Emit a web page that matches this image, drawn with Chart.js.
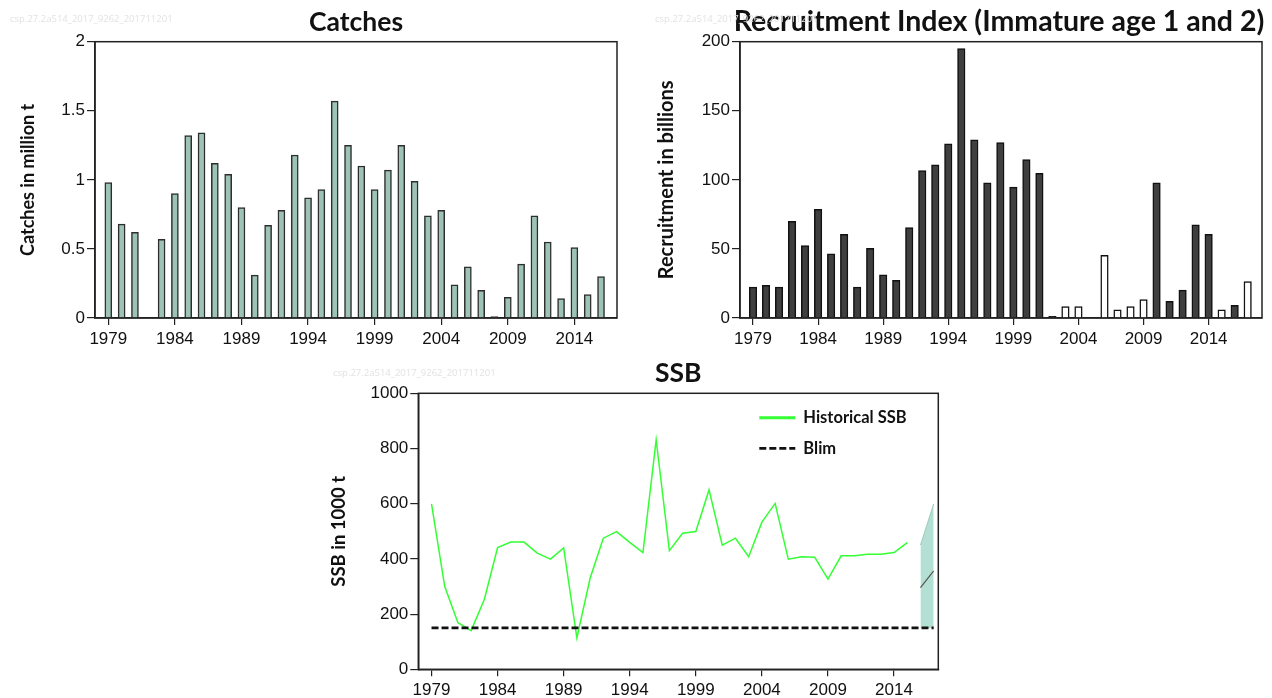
<!DOCTYPE html>
<html lang="en">
<head>
<meta charset="UTF-8">
<title>Capelin stock summary</title>
<style>
  body{ margin:0; background:#fff; }
  .box{ position:absolute; }
</style>
</head>
<body>
<div class="box" style="left:0;top:0"><canvas id="c1" width="640" height="350"></canvas></div>
<div class="box" style="left:640px;top:0"><canvas id="c2" width="632" height="350"></canvas></div>
<div class="box" style="left:320px;top:355px"><canvas id="c3" width="640" height="343"></canvas></div>

<script src="https://cdn.jsdelivr.net/npm/chart.js"></script>
<script>
"use strict";

// ---- data ----
const catchYears = [1979,1980,1981,1982,1983,1984,1985,1986,1987,1988,1989,1990,1991,1992,1993,1994,1995,1996,1997,
  1998,1999,2000,2001,2002,2003,2004,2005,2006,2007,2008,2009,2010,2011,2012,2013,2014,2015,2016];
const catches = [0.98,0.68,0.62,null,0.57,0.90,1.32,1.34,1.12,1.04,0.80,0.31,0.67,0.78,1.18,0.87,0.93,1.57,1.25,
  1.10,0.93,1.07,1.25,0.99,0.74,0.78,0.24,0.37,0.20,0.01,0.15,0.39,0.74,0.55,0.14,0.51,0.17,0.30];

const recYears = [1979,1980,1981,1982,1983,1984,1985,1986,1987,1988,1989,1990,1991,1992,1993,1994,1995,1996,1997,
  1998,1999,2000,2001,2002,2003,2004,2005,2006,2007,2008,2009,2010,2011,2012,2013,2014,2015,2016,2017];
const recFilled = [22.4,23.6,22.4,69.9,52.5,78.6,46.5,60.5,22.4,50.4,31.3,27.2,65.5,106.7,110.8,126,195,129,97.8,
  127,94.7,114.7,104.8,1.2,null,null,null,null,null,null,null,97.8,12,20.2,67.5,60.5,null,9.2,null];
const recOpen = [null,null,null,null,null,null,null,null,null,null,null,null,null,null,null,null,null,null,null,
  null,null,null,null,null,8.2,8.2,null,45.3,6,8.2,13.3,null,null,null,null,null,6,null,26.3];

const ssbYears = [1979,1980,1981,1982,1983,1984,1985,1986,1987,1988,1989,1990,1991,1992,1993,1994,1995,1996,1997,
  1998,1999,2000,2001,2002,2003,2004,2005,2006,2007,2008,2009,2010,2011,2012,2013,2014,2015];
const ssb = [599,300,169,140,254,441,461,461,421,399,440,114,330,475,499,460,423,831,430,493,499,650,450,475,408,
  533,601,399,408,406,327,411,411,417,417,423,459];
const projYears = [2016,2017];
const projHigh = [450,599];
const projLow = [150,150];
const projMid = [296,357];
const blimYears = [1979,2017];
const blim = 150;

const xTickYears = [1979,1984,1989,1994,1999,2004,2009,2014];
const watermark = "csp.27.2a514_2017_9262_201711201";

// ---- helpers ----
const pts = (xs, ys) => xs.map((x, i) => ({x: x, y: ys[i]}));
const tickFont = {family: "'Liberation Sans', Arial", size: 17};

function xAxis(min, max, h){
  return {
    type: "linear", min: min, max: max, offset: false,
    afterBuildTicks: s => { s.ticks = xTickYears.map(v => ({value: v})); },
    afterFit: s => { s.height = h; },
    ticks: {font: tickFont, color: "#111", padding: 4, maxRotation: 0, autoSkip: false, callback: v => String(v)},
    grid: {display: true, drawOnChartArea: false, offset: false, tickLength: 7, color: "#222", lineWidth: 1.2},
    border: {display: true, color: "#222", width: 1.5}
  };
}
function yAxis(max, step, w, label, pad, size){
  return {
    min: 0, max: max,
    afterFit: s => { s.width = w; },
    ticks: {stepSize: step, font: tickFont, color: "#111", padding: 2, callback: v => String(v)},
    grid: {display: true, drawOnChartArea: false, tickLength: 8, color: "#222", lineWidth: 1.2},
    border: {display: true, color: "#222", width: 1.5},
    title: {display: true, text: label, font: {family: "Lato", size: size, weight: "bold"}, color: "#111",
      padding: {top: pad, bottom: 0}}
  };
}

// frame, title and watermark
const frame = {
  id: "frame",
  afterDraw(chart, args, o){
    const ctx = chart.ctx, a = chart.chartArea;
    ctx.save();
    ctx.strokeStyle = "#222"; ctx.lineWidth = 1.5;
    ctx.strokeRect(a.left, a.top, a.right - a.left, a.bottom - a.top);
    ctx.fillStyle = "#111";
    ctx.font = "bold " + o.titleSize + "px Lato";
    ctx.textAlign = "center"; ctx.textBaseline = "alphabetic";
    ctx.fillText(o.title, (a.left + a.right) / 2 + (o.titleShift || 0), o.titleY);
    ctx.font = "9.5px 'Open Sans'";
    ctx.fillStyle = "#e2e2e2"; ctx.textAlign = "left"; ctx.textBaseline = "middle";
    ctx.fillText(watermark, o.markX, o.markY);
    ctx.restore();
  }
};

// legend drawn inside the SSB plot
const ssbLegend = {
  id: "ssbLegend",
  afterDraw(chart, args, o){
    const ctx = chart.ctx, a = chart.chartArea;
    ctx.save();
    ctx.font = "bold 16.5px Lato";
    ctx.textBaseline = "middle"; ctx.textAlign = "left";
    o.items.forEach((idx, i) => {
      const ds = chart.data.datasets[idx];
      const y = a.top + o.top + i * o.gap;
      const x0 = a.left + o.left;
      ctx.strokeStyle = ds.borderColor;
      ctx.lineWidth = idx === 0 ? 3 : 2.8;
      ctx.setLineDash(ds.borderDash || []);
      ctx.beginPath(); ctx.moveTo(x0, y); ctx.lineTo(x0 + 36, y); ctx.stroke();
      ctx.setLineDash([]);
      ctx.fillStyle = "#111";
      ctx.fillText(ds.label, x0 + 44, y);
    });
    ctx.restore();
  }
};

Chart.defaults.animation = false;
Chart.defaults.responsive = false;

// ---- Catches ----
new Chart(document.getElementById("c1"), {
  type: "bar",
  data: {datasets: [{
    label: "Catches",
    data: pts(catchYears, catches),
    backgroundColor: "#9cc3b5", borderColor: "#2e2e2e", borderWidth: 1.5, barThickness: 7
  }]},
  options: {
    layout: {padding: {top: 41.7, right: 23, bottom: 0, left: 0}},
    scales: {x: xAxis(1978, 2017.2, 32), y: yAxis(2, 0.5, 95, "Catches in million t", 17, 18)},
    plugins: {legend: {display: false}, tooltip: {enabled: false},
      frame: {title: "Catches", titleSize: 26.5, titleY: 31, markX: 10, markY: 19}}
  },
  plugins: [frame]
});

// ---- Recruitment ----
new Chart(document.getElementById("c2"), {
  type: "bar",
  data: {datasets: [
    {label: "Recruitment", data: pts(recYears, recFilled),
      backgroundColor: "#3f3f3f", borderColor: "#111", borderWidth: 1.5, barThickness: 7.5},
    {label: "Recruitment (open)", data: pts(recYears, recOpen),
      backgroundColor: "#ffffff", borderColor: "#111", borderWidth: 1.5, barThickness: 7.5}
  ]},
  options: {
    grouped: false,
    layout: {padding: {top: 41.7, right: 10, bottom: 0, left: 0}},
    scales: {x: xAxis(1978, 2018.1, 32), y: yAxis(200, 50, 100, "Recruitment in billions", 15, 20)},
    plugins: {legend: {display: false}, tooltip: {enabled: false},
      frame: {title: "Recruitment Index (Immature age 1 and 2)", titleSize: 28.5, titleY: 31, titleShift: -2,
        markX: 15, markY: 19}}
  },
  plugins: [frame]
});

// ---- SSB ----
new Chart(document.getElementById("c3"), {
  type: "line",
  data: {datasets: [
    {label: "Historical SSB", data: pts(ssbYears, ssb), borderColor: "#33ff33", borderWidth: 1.5,
      pointRadius: 0, tension: 0, fill: false, order: 1},
    {label: "Blim", data: blimYears.map(x => ({x: x, y: blim})), borderColor: "#111", borderWidth: 2.8,
      borderDash: [7, 3], pointRadius: 0, fill: false, order: 0},
    {label: "Projection high", data: pts(projYears, projHigh), borderColor: "#9ccabd", borderWidth: 1,
      backgroundColor: "#b3e0d3", pointRadius: 0, fill: "+1", order: 3},
    {label: "Projection low", data: pts(projYears, projLow), borderColor: "rgba(0,0,0,0)", borderWidth: 0,
      pointRadius: 0, fill: false, order: 3},
    {label: "Projection", data: pts(projYears, projMid), borderColor: "#555", borderWidth: 1.2,
      pointRadius: 0, fill: false, order: 2}
  ]},
  options: {
    layout: {padding: {top: 38.3, right: 21.7, bottom: 0, left: 0}},
    scales: {x: xAxis(1978, 2017.35, 28.7), y: yAxis(1000, 200, 98.3, "SSB in 1000 t", 8, 18.5)},
    plugins: {legend: {display: false}, tooltip: {enabled: false},
      frame: {title: "SSB", titleSize: 26.5, titleY: 27, markX: 13, markY: 18},
      ssbLegend: {items: [0, 1], left: 341, top: 24.5, gap: 30.5}}
  },
  plugins: [frame, ssbLegend]
});
</script>
</body>
</html>
